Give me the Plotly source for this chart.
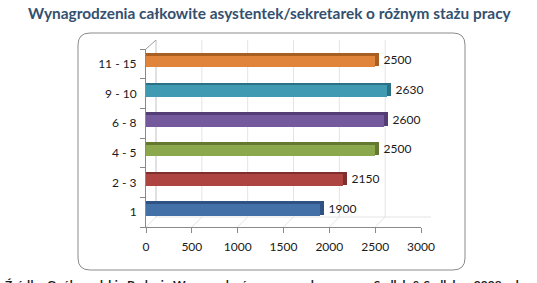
import plotly.graph_objects as go

categories = ["1", "2 - 3", "4 - 5", "6 - 8", "9 - 10", "11 - 15"]
values = [1900, 2150, 2500, 2600, 2630, 2500]
front_colors = ["#4470A8", "#AD4442", "#8CA84C", "#74599C", "#3F9AB2", "#E0843C"]
top_colors = ["#2E5283", "#7E2E2C", "#64792F", "#523D74", "#2A7186", "#A95F22"]
tick_values = [0, 500, 1000, 1500, 2000, 2500, 3000]
title_text = "Wynagrodzenia całkowite asystentek/sekretarek o różnym stażu pracy"
source_text = "Źródło: Ogólnopolskie Badanie Wynagrodzeń przeprowadzone przez Sedlak & Sedlak w 2008 roku"

W, H = 537, 283
L, R, T, B = 146, 421, 49, 227  # plot area in pixels

def px_x(p):
    return (p - L) / (R - L)

def px_y(p):
    return (B - p) / (B - T)

FONT = "Lato, 'Open Sans', sans-serif"

fig = go.Figure()

# front faces
fig.add_trace(go.Bar(
    y=categories, x=values, orientation="h",
    marker=dict(color=front_colors, line=dict(width=0)),
    width=0.48, offset=-0.12, hoverinfo="skip", showlegend=False,
))
# darker top edge
fig.add_trace(go.Bar(
    y=categories, x=values, orientation="h",
    marker=dict(color=top_colors, line=dict(width=0)),
    width=0.09, offset=0.27, hoverinfo="skip", showlegend=False,
))
# right end caps + value labels
fig.add_trace(go.Bar(
    y=categories, x=[45] * len(values), base=values, orientation="h",
    marker=dict(color=top_colors, line=dict(width=0)),
    width=0.44, offset=-0.08,
    text=["\u2009" + str(v) for v in values], textposition="outside", constraintext="none",
    textfont=dict(family=FONT, size=12, color="#1a1a1a"),
    cliponaxis=False, hoverinfo="skip", showlegend=False,
))

shapes = []
# rounded outer frame
x0, x1 = px_x(78), px_x(465)
y0, y1 = px_y(270), px_y(33)
rx, ry = 12 / (R - L), 12 / (B - T)
path = (f"M {x0+rx},{y1} L {x1-rx},{y1} Q {x1},{y1} {x1},{y1-ry} "
        f"L {x1},{y0+ry} Q {x1},{y0} {x1-rx},{y0} L {x0+rx},{y0} "
        f"Q {x0},{y0} {x0},{y0+ry} L {x0},{y1-ry} Q {x0},{y1} {x0+rx},{y1} Z")
shapes.append(dict(type="path", xref="paper", yref="paper", path=path,
                   line=dict(color="#8a8a8a", width=1), layer="below"))

# 3D back wall gridlines and floor lines
for v in tick_values:
    shapes.append(dict(type="line", xref="x", yref="paper", xsizemode="pixel", xanchor=v,
                       x0=10, x1=10, y0=px_y(217), y1=px_y(40),
                       line=dict(color="#e4e4e4", width=1), layer="below"))
    shapes.append(dict(type="line", xref="x", yref="paper", xsizemode="pixel", xanchor=v,
                       ysizemode="pixel", yanchor=0, x0=0, x1=10, y0=0, y1=10,
                       line=dict(color="#e4e4e4", width=1), layer="below"))
# left wall diagonals
shapes.append(dict(type="line", xref="paper", yref="paper", x0=0, x1=px_x(156),
                   y0=1, y1=px_y(40), line=dict(color="#9a9a9a", width=1)))
shapes.append(dict(type="line", xref="paper", yref="paper", x0=px_x(156), x1=px_x(156),
                   y0=px_y(217), y1=px_y(40), line=dict(color="#d0d0d0", width=1), layer="below"))
shapes.append(dict(type="line", xref="paper", yref="paper", x0=px_x(156), x1=px_x(431),
                   y0=px_y(217), y1=px_y(217), line=dict(color="#e4e4e4", width=1), layer="below"))

fig.update_layout(
    width=W, height=H,
    margin=dict(l=L, r=W - R, t=T, b=H - B, pad=0),
    paper_bgcolor="white", plot_bgcolor="rgba(0,0,0,0)",
    bargap=0, barmode="overlay",
    font=dict(family=FONT, size=12, color="#1a1a1a"),
    shapes=shapes,
    xaxis=dict(range=[0, 3000], tickvals=tick_values, showgrid=False, zeroline=False,
               showline=True, linecolor="#8a8a8a", linewidth=1,
               ticks="outside", ticklen=5, tickcolor="#8a8a8a",
               ticklabelstandoff=4, tickfont=dict(size=12, family=FONT)),
    yaxis=dict(type="category", categoryorder="array", categoryarray=categories,
               range=[-0.5, 5.5], showgrid=False, zeroline=False,
               showline=True, linecolor="#8a8a8a", linewidth=1,
               ticks="outside", ticklen=5, tickcolor="#8a8a8a", tickson="boundaries",
               ticklabelstandoff=6, tickfont=dict(size=12, family=FONT)),
    annotations=[
        dict(text=f"<b>{title_text}</b>", xref="paper", yref="paper",
             x=px_x(270), y=px_y(13), xanchor="center", yanchor="middle",
             showarrow=False, font=dict(family=FONT, size=15.4, color="#34506E")),
        dict(text=f"<b>{source_text}</b>", xref="paper", yref="paper",
             x=px_x(3), y=px_y(275), xanchor="left", yanchor="top",
             showarrow=False, font=dict(family=FONT, size=12, color="#1a1a1a")),
    ],
)

fig.write_html("out.html")
